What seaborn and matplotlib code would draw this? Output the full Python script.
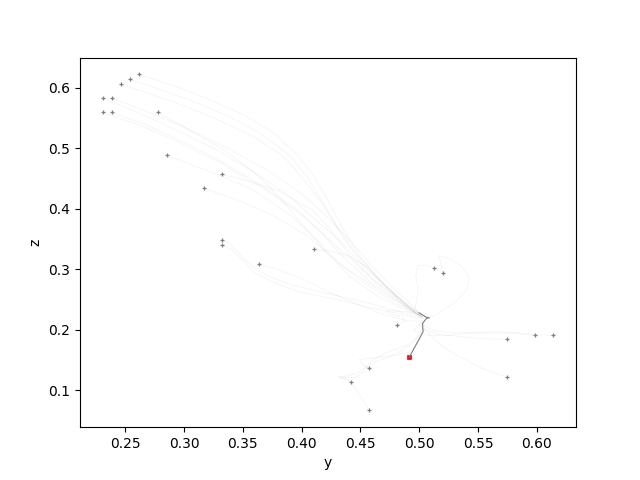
import pandas as pd
import seaborn as sns
import matplotlib.pyplot as plt

# trajectories in the (y, z) plane, first point = start marker
traj_y = [
    [0.2615, 0.29, 0.32, 0.35, 0.375, 0.395, 0.41, 0.422, 0.435, 0.45, 0.47, 0.49, 0.503],
    [0.2538, 0.28, 0.31, 0.34, 0.365, 0.39, 0.405, 0.418, 0.432, 0.45, 0.475, 0.495, 0.504],
    [0.2462, 0.27, 0.30, 0.33, 0.36, 0.385, 0.40, 0.415, 0.43, 0.445, 0.465, 0.488, 0.502],
    [0.2308, 0.26, 0.2956, 0.33, 0.36, 0.39, 0.41, 0.432, 0.455, 0.478, 0.496, 0.505],
    [0.2385, 0.27, 0.30, 0.335, 0.37, 0.40, 0.42, 0.44, 0.46, 0.48, 0.497, 0.503],
    [0.2308, 0.26, 0.29, 0.332, 0.37, 0.40, 0.42, 0.44, 0.462, 0.485, 0.50],
    [0.2385, 0.27, 0.30, 0.332, 0.365, 0.395, 0.415, 0.432, 0.455, 0.48, 0.498],
    [0.2777, 0.30, 0.332, 0.36, 0.381, 0.40, 0.42, 0.44, 0.465, 0.49, 0.502],
    [0.2853, 0.31, 0.331, 0.36, 0.39, 0.41, 0.432, 0.455, 0.48, 0.497],
    [0.3322, 0.353, 0.38, 0.409, 0.425, 0.44, 0.46, 0.48, 0.496, 0.503],
    [0.3168, 0.345, 0.375, 0.405, 0.432, 0.455, 0.475, 0.495, 0.502],
    [0.3322, 0.338, 0.345, 0.355, 0.37, 0.39, 0.424, 0.455, 0.48, 0.50],
    [0.3322, 0.34, 0.35, 0.36, 0.38, 0.40, 0.43, 0.46, 0.485, 0.50],
    [0.3637, 0.38, 0.40, 0.424, 0.45, 0.47, 0.49, 0.50],
    [0.4105, 0.425, 0.44, 0.455, 0.468, 0.48, 0.493, 0.502],
    [0.5127, 0.505, 0.499, 0.497, 0.499, 0.498, 0.496, 0.502],
    [0.5204, 0.518, 0.517, 0.525, 0.536, 0.543, 0.54, 0.53, 0.517, 0.507],
    [0.4812, 0.488, 0.485, 0.475, 0.472, 0.49, 0.50, 0.503],
    [0.5749, 0.55, 0.53, 0.515, 0.505, 0.50, 0.502],
    [0.5987, 0.58, 0.56, 0.54, 0.52, 0.505, 0.495, 0.502],
    [0.6141, 0.60, 0.58, 0.565, 0.545, 0.525, 0.51, 0.503],
    [0.4574, 0.452, 0.449, 0.466, 0.48, 0.491, 0.50, 0.503, 0.502],
    [0.442, 0.438, 0.432, 0.437, 0.445, 0.452, 0.46, 0.475, 0.49, 0.50, 0.503],
    [0.5749, 0.555, 0.535, 0.52, 0.511, 0.505, 0.503],
    [0.4574, 0.45, 0.446, 0.438, 0.431, 0.44, 0.448, 0.46, 0.48, 0.495, 0.502],
]
traj_z = [
    [0.622, 0.604, 0.582, 0.556, 0.527, 0.492, 0.455, 0.415, 0.368, 0.32, 0.275, 0.24, 0.222],
    [0.614, 0.597, 0.576, 0.551, 0.524, 0.488, 0.452, 0.41, 0.362, 0.313, 0.265, 0.232, 0.218],
    [0.606, 0.591, 0.57, 0.546, 0.518, 0.486, 0.453, 0.415, 0.372, 0.33, 0.285, 0.245, 0.224],
    [0.5825, 0.56, 0.528, 0.495, 0.46, 0.42, 0.385, 0.348, 0.30, 0.26, 0.232, 0.221],
    [0.5825, 0.56, 0.535, 0.502, 0.465, 0.425, 0.39, 0.35, 0.305, 0.265, 0.235, 0.222],
    [0.5594, 0.54, 0.515, 0.475, 0.43, 0.39, 0.355, 0.32, 0.28, 0.245, 0.224],
    [0.5594, 0.537, 0.51, 0.478, 0.44, 0.40, 0.365, 0.327, 0.285, 0.25, 0.226],
    [0.5594, 0.535, 0.50, 0.46, 0.42, 0.375, 0.33, 0.29, 0.255, 0.232, 0.222],
    [0.4883, 0.47, 0.455, 0.43, 0.39, 0.355, 0.31, 0.275, 0.245, 0.228],
    [0.4569, 0.447, 0.43, 0.398, 0.365, 0.325, 0.285, 0.255, 0.23, 0.22],
    [0.4338, 0.415, 0.39, 0.355, 0.31, 0.28, 0.255, 0.23, 0.221],
    [0.3479, 0.344, 0.33, 0.31, 0.29, 0.275, 0.259, 0.245, 0.232, 0.222],
    [0.3396, 0.333, 0.315, 0.295, 0.275, 0.262, 0.25, 0.236, 0.226, 0.218],
    [0.3082, 0.30, 0.285, 0.262, 0.24, 0.225, 0.215, 0.214],
    [0.333, 0.33, 0.322, 0.305, 0.28, 0.255, 0.232, 0.222],
    [0.3016, 0.307, 0.306, 0.29, 0.27, 0.25, 0.235, 0.222],
    [0.2933, 0.31, 0.323, 0.318, 0.305, 0.285, 0.265, 0.245, 0.228, 0.218],
    [0.2074, 0.215, 0.222, 0.226, 0.232, 0.23, 0.225, 0.215],
    [0.1843, 0.186, 0.19, 0.193, 0.20, 0.208, 0.215],
    [0.1909, 0.194, 0.195, 0.194, 0.19, 0.192, 0.198, 0.212],
    [0.1909, 0.192, 0.196, 0.197, 0.196, 0.195, 0.20, 0.21],
    [0.1363, 0.142, 0.151, 0.155, 0.158, 0.163, 0.18, 0.20, 0.214],
    [0.1132, 0.118, 0.121, 0.122, 0.121, 0.13, 0.15, 0.165, 0.175, 0.19, 0.21],
    [0.1215, 0.135, 0.155, 0.172, 0.188, 0.20, 0.212],
    [0.067, 0.09, 0.104, 0.12, 0.123, 0.124, 0.13, 0.145, 0.16, 0.178, 0.20],
]

# highlighted trajectory, starts at the red point
main_y = [0.4914, 0.5033, 0.5028, 0.5062, 0.5085, 0.506, 0.4999]
main_z = [0.1545, 0.1968, 0.2107, 0.219, 0.22, 0.221, 0.2282]

rows = []
for i, (ys, zs) in enumerate(zip(traj_y, traj_z)):
    for k, (a, b) in enumerate(zip(ys, zs)):
        rows.append({"traj": i, "step": k, "y": a, "z": b})
df = pd.DataFrame(rows)
starts = df[df["step"] == 0]
main = pd.DataFrame({"y": main_y, "z": main_z})

fig, ax = plt.subplots(figsize=(6.4, 4.8), dpi=100)
sns.lineplot(data=df, x="y", y="z", units="traj", estimator=None, sort=False,
             color="gray", alpha=0.1, lw=0.5, ax=ax)
sns.lineplot(data=main, x="y", y="z", sort=False, color="gray", lw=0.8,
             estimator=None, ax=ax)
sns.scatterplot(data=starts, x="y", y="z", marker="+", color="gray", s=10,
                linewidth=0.9, ax=ax)
sns.scatterplot(data=main.iloc[:1], x="y", y="z", marker="s", color="red",
                s=5, edgecolor="red", linewidth=0.5, ax=ax)
ax.set_xlabel("y")
ax.set_ylabel("z")
fig.savefig("out.png", dpi=100)
